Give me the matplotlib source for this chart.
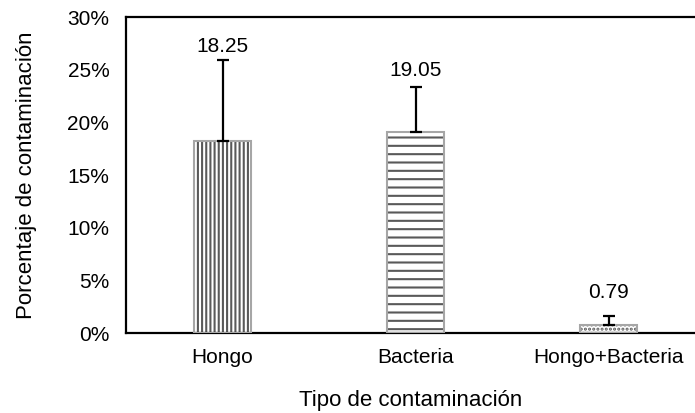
import matplotlib
matplotlib.use("Agg")
import matplotlib.pyplot as plt

plt.rcParams['font.family'] = ['Liberation Sans', 'DejaVu Sans']
plt.rcParams['hatch.linewidth'] = 1.5

# datos
categorias = ['Hongo', 'Bacteria', 'Hongo+Bacteria']
valores = [18.25, 19.05, 0.79]
errores = [7.68, 4.3, 0.8]
etiquetas = ['18.25', '19.05', '0.79']
tramas = ['||||', '--', '....']
yticks = [0, 5, 10, 15, 20, 25, 30]

fig = plt.figure(figsize=(6.95, 4.13), dpi=100)
ax = fig.add_axes([0.1813, 0.1937, 0.8187, 0.7651])

x = list(range(len(categorias)))
ancho = 0.295

# relleno con trama
for i in x:
    ax.bar(i, valores[i], width=ancho, color='white', edgecolor='#595959',
           hatch=tramas[i], linewidth=0, zorder=2)
# borde gris
ax.bar(x, valores, width=ancho, fill=False, edgecolor='#a6a6a6', linewidth=1.5, zorder=3)

# barras de error (solo hacia arriba)
ax.errorbar(x, valores, yerr=[[0] * len(x), errores], fmt='none', ecolor='black',
            elinewidth=1.6, capsize=4.5, capthick=1.6, zorder=4)

# etiquetas de datos (desplazamiento en px sobre la barra de error)
desplaz = [13, 17, 24]
for i in x:
    ax.annotate(etiquetas[i], (i, valores[i] + errores[i]), xytext=(0, desplaz[i] * 0.72),
                textcoords='offset points', ha='center', va='center', fontsize=15)

ax.set_xlim(-0.5, 2.446)
ax.set_ylim(0, 30)
ax.set_yticks(yticks)
ax.set_yticklabels([f'{v}%' for v in yticks])
ax.set_xticks(x)
ax.set_xticklabels(categorias)
ax.tick_params(axis='both', length=0, labelsize=15, colors='black')
ax.tick_params(axis='y', pad=12)
ax.tick_params(axis='x', pad=11)

for s in ['left', 'top', 'bottom']:
    ax.spines[s].set_linewidth(1.6)
    ax.spines[s].set_color('black')
ax.spines['right'].set_visible(False)

ax.set_ylabel('Porcentaje de contaminación', fontsize=16, labelpad=22)
ax.set_xlabel('Tipo de contaminación', fontsize=16, labelpad=16)

fig.savefig('out.png', dpi=100)
